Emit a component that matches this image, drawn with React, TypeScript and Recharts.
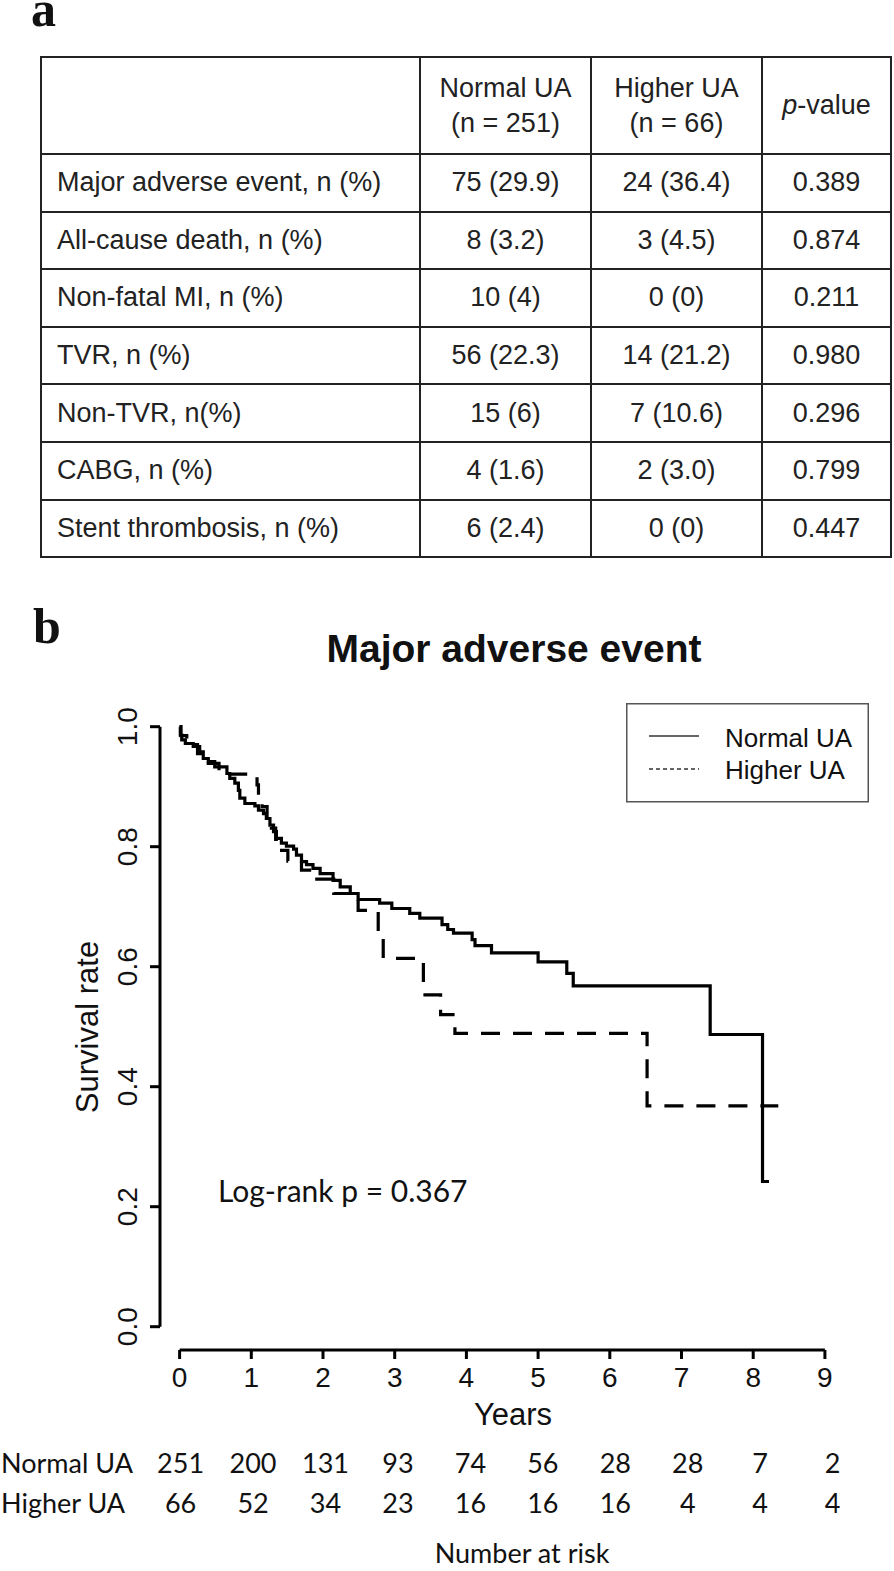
import { LineChart, Line, XAxis, YAxis, Legend } from 'recharts';

// ---- panel a: table ----
const rowLabels = [
  'Major adverse event, n (%)',
  'All-cause death, n (%)',
  'Non-fatal MI, n (%)',
  'TVR, n (%)',
  'Non-TVR, n(%)',
  'CABG, n (%)',
  'Stent thrombosis, n (%)',
];
const normalCol = ['75 (29.9)', '8 (3.2)', '10 (4)', '56 (22.3)', '15 (6)', '4 (1.6)', '6 (2.4)'];
const higherCol = ['24 (36.4)', '3 (4.5)', '0 (0)', '14 (21.2)', '7 (10.6)', '2 (3.0)', '0 (0)'];
const pValues = ['0.389', '0.874', '0.211', '0.980', '0.296', '0.799', '0.447'];

// ---- panel b: Kaplan-Meier ----
const seriesNames = ['Normal UA', 'Higher UA'];
const normalT = [0, 0.01, 0.03, 0.08, 0.19, 0.28, 0.33, 0.4, 0.49, 0.66, 0.7, 0.77, 0.82, 0.84, 0.91, 1.05, 1.1, 1.17, 1.21, 1.26, 1.31, 1.35, 1.42, 1.49, 1.59, 1.63, 1.7, 1.77, 1.86, 1.96, 2.14, 2.24, 2.38, 2.49, 2.79, 2.96, 3.21, 3.35, 3.66, 3.74, 3.82, 4.08, 4.12, 4.35, 5.0, 5.4, 5.49, 7.4, 8.13, 8.22];
const normalS = [1, 0.986, 0.978, 0.972, 0.967, 0.958, 0.947, 0.942, 0.933, 0.922, 0.914, 0.906, 0.894, 0.881, 0.872, 0.868, 0.861, 0.855, 0.847, 0.836, 0.825, 0.814, 0.806, 0.801, 0.796, 0.786, 0.775, 0.77, 0.764, 0.755, 0.744, 0.733, 0.722, 0.712, 0.706, 0.697, 0.689, 0.681, 0.67, 0.662, 0.656, 0.645, 0.635, 0.623, 0.608, 0.589, 0.568, 0.487, 0.242, 0.242];
const higherT = [0, 0.02, 0.1, 0.25, 0.4, 0.55, 1.08, 1.1, 1.15, 1.22, 1.28, 1.34, 1.4, 1.51, 1.7, 1.86, 2.15, 2.49, 2.77, 2.84, 3.4, 3.64, 3.84, 6.52, 8.35];
const higherS = [1, 0.985, 0.97, 0.955, 0.939, 0.921, 0.903, 0.885, 0.867, 0.849, 0.831, 0.812, 0.794, 0.776, 0.761, 0.746, 0.722, 0.694, 0.655, 0.614, 0.553, 0.52, 0.489, 0.368, 0.368];

const xTicks = [0, 1, 2, 3, 4, 5, 6, 7, 8, 9];
const yTicks = [0, 0.2, 0.4, 0.6, 0.8, 1.0];
const riskNormal = [251, 200, 131, 93, 74, 56, 28, 28, 7, 2];
const riskHigher = [66, 52, 34, 23, 16, 16, 16, 4, 4, 4];

const normalData = normalT.map((t, i) => ({ t, s: normalS[i] }));
const higherData = higherT.map((t, i) => ({ t, s: higherS[i] }));

const ARIAL = '"Liberation Sans", Arial, sans-serif';
const CALI = 'Lato, "Open Sans", sans-serif';
const SERIF = '"Liberation Serif", "Times New Roman", serif';

// R draws axes detached from the plot region
const X_OFF = 23.3;
const Y_OFF = 19.6;

function XTick(props: any) {
  const { x, y, payload } = props;
  const i = xTicks.indexOf(payload.value);
  const rx = x + 1 + i * 0.75;
  const yy = y + X_OFF;
  return (
    <g>
      <text x={x} y={yy + 26} textAnchor="middle" fontFamily={ARIAL} fontSize={28} fill="#111">
        {payload.value}
      </text>
      <text x={rx} y={yy + 112} textAnchor="middle" fontFamily={CALI} fontSize={27} fill="#111">
        {riskNormal[i]}
      </text>
      <text x={rx} y={yy + 152} textAnchor="middle" fontFamily={CALI} fontSize={27} fill="#111">
        {riskHigher[i]}
      </text>
    </g>
  );
}

function YTick(props: any) {
  const { x, y, payload } = props;
  const xx = x - Y_OFF;
  return (
    <text
      x={xx}
      y={y}
      transform={`rotate(-90 ${xx} ${y})`}
      textAnchor="middle"
      fontFamily={ARIAL}
      fontSize={28}
      fill="#111"
    >
      {Number(payload.value).toFixed(1)}
    </text>
  );
}

function LegendBox(props: any) {
  const items = [...(props.payload ?? [])].sort(
    (a: any, b: any) => seriesNames.indexOf(a.value) - seriesNames.indexOf(b.value)
  );
  return (
    <svg width={243} height={100} style={{ display: 'block' }}>
      <rect x={0.75} y={0.75} width={241.5} height={98} fill="#fff" stroke="#555" strokeWidth={1.5} />
      {items.map((it: any, k: number) => (
        <g key={k}>
          <line
            x1={23}
            x2={73}
            y1={33 + k * 33}
            y2={33 + k * 33}
            stroke="#333"
            strokeWidth={1.5}
            strokeDasharray={it.payload?.strokeDasharray ? '4 3' : undefined}
          />
          <text x={99} y={44 + k * 32} fontFamily={ARIAL} fontSize={26} fill="#111">
            {it.value}
          </text>
        </g>
      ))}
    </svg>
  );
}

export default function App() {
  return (
    <div className="km" style={{ position: 'relative', width: 894, height: 1571, background: '#fff' }}>
      <style>{`
        body { margin: 0; }
        .km .recharts-xAxis .recharts-cartesian-axis-line,
        .km .recharts-xAxis .recharts-cartesian-axis-tick-line { transform: translateY(${X_OFF}px); }
        .km .recharts-yAxis .recharts-cartesian-axis-line,
        .km .recharts-yAxis .recharts-cartesian-axis-tick-line { transform: translateX(-${Y_OFF}px); }
      `}</style>

      <table
        style={{
          position: 'absolute',
          left: 40,
          top: 56,
          width: 850,
          tableLayout: 'fixed',
          borderCollapse: 'collapse',
          fontFamily: ARIAL,
          fontSize: 27,
          color: '#222',
        }}
      >
        <colgroup>
          <col style={{ width: 379 }} />
          <col style={{ width: 171 }} />
          <col style={{ width: 171 }} />
          <col style={{ width: 129 }} />
        </colgroup>
        <tbody>
          <tr style={{ height: 97 }}>
            <td style={{ border: '2px solid #222' }} />
            <td style={{ border: '2px solid #222', textAlign: 'center', lineHeight: '35px' }}>
              Normal UA
              <br />
              (n = 251)
            </td>
            <td style={{ border: '2px solid #222', textAlign: 'center', lineHeight: '35px' }}>
              Higher UA
              <br />
              (n = 66)
            </td>
            <td style={{ border: '2px solid #222', textAlign: 'center' }}>
              <i>p</i>-value
            </td>
          </tr>
          {rowLabels.map((lab, i) => (
            <tr key={lab} style={{ height: 57.6 }}>
              <td style={{ border: '2px solid #222', paddingLeft: 15, whiteSpace: 'nowrap' }}>{lab}</td>
              <td style={{ border: '2px solid #222', textAlign: 'center' }}>{normalCol[i]}</td>
              <td style={{ border: '2px solid #222', textAlign: 'center' }}>{higherCol[i]}</td>
              <td style={{ border: '2px solid #222', textAlign: 'center' }}>{pValues[i]}</td>
            </tr>
          ))}
        </tbody>
      </table>

      <div style={{ position: 'absolute', left: 0, top: 600 }}>
        <LineChart width={894} height={971} margin={{ top: 126.7, right: 69.1, left: 119.6, bottom: 184.3 }}>
          <XAxis
            type="number"
            dataKey="t"
            domain={[0, 9]}
            ticks={xTicks}
            height={60}
            tickSize={9}
            tickMargin={2}
            axisLine={{ stroke: '#000', strokeWidth: 3 }}
            tickLine={{ stroke: '#000', strokeWidth: 3 }}
            tick={<XTick />}
            interval={0}
          />
          <YAxis
            type="number"
            domain={[0, 1]}
            ticks={yTicks}
            width={60}
            tickSize={10}
            tickMargin={13}
            axisLine={{ stroke: '#000', strokeWidth: 3 }}
            tickLine={{ stroke: '#000', strokeWidth: 3 }}
            tick={<YTick />}
            interval={0}
          />
          <Legend
            layout="vertical"
            align="center"
            verticalAlign="middle"
            wrapperStyle={{ left: 625.7, top: 103, width: 243, height: 100 }}
            content={<LegendBox />}
          />
          <Line
            data={normalData}
            dataKey="s"
            name={seriesNames[0]}
            type="stepAfter"
            stroke="#000"
            strokeWidth={3.2}
            dot={false}
            isAnimationActive={false}
          />
          <Line
            data={higherData}
            dataKey="s"
            name={seriesNames[1]}
            type="stepAfter"
            stroke="#000"
            strokeWidth={3.2}
            strokeDasharray="19 13"
            dot={false}
            isAnimationActive={false}
          />
        </LineChart>
      </div>

      <svg
        width={894}
        height={1571}
        style={{ position: 'absolute', left: 0, top: 0, pointerEvents: 'none' }}
      >
        <text x={31} y={26} fontFamily={SERIF} fontWeight="bold" fontSize={50} fill="#111">a</text>
        <text x={33} y={643} fontFamily={SERIF} fontWeight="bold" fontSize={50} fill="#111">b</text>
        <text x={514} y={662} textAnchor="middle" fontFamily={ARIAL} fontWeight="bold" fontSize={39} fill="#111">
          Major adverse event
        </text>
        <text
          x={98}
          y={1027}
          transform="rotate(-90 98 1027)"
          textAnchor="middle"
          fontFamily={ARIAL}
          fontSize={31}
          fill="#111"
        >
          Survival rate
        </text>
        <text x={513} y={1425} textAnchor="middle" fontFamily={ARIAL} fontSize={31} fill="#111">Years</text>
        <text x={218} y={1202} fontFamily={CALI} fontSize={30} fill="#111">Log-rank p = 0.367</text>
        <text x={1} y={1473} fontFamily={CALI} fontSize={27} fill="#111">Normal UA</text>
        <text x={1} y={1513} fontFamily={CALI} fontSize={27} fill="#111">Higher UA</text>
        <text x={522} y={1563} textAnchor="middle" fontFamily={CALI} fontSize={27} fill="#111">Number at risk</text>
      </svg>
    </div>
  );
}
